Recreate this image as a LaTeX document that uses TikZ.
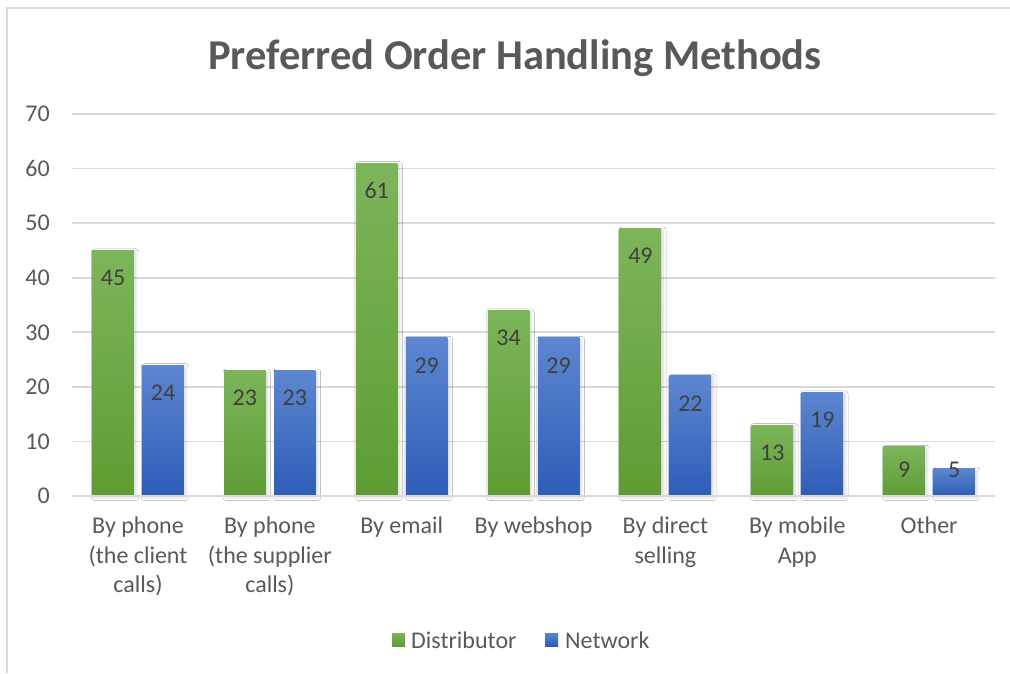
\documentclass[tikz,border=0pt]{standalone}
\usepackage{fontspec}
\setmainfont{Carlito}
\usetikzlibrary{shadows.blur}

\definecolor{txtgrey}{HTML}{595959}
\definecolor{lblgrey}{HTML}{404040}
\definecolor{gridgrey}{HTML}{D9D9D9}
\definecolor{greentop}{HTML}{7DB55A}
\definecolor{greenbot}{HTML}{5E9C33}
\definecolor{bluetop}{HTML}{5C86D0}
\definecolor{bluebot}{HTML}{2E5DB6}

\tikzset{
  gridline/.style={draw=gridgrey, line width=1.6pt},
  axislabel/.style={font=\fontsize{24}{28}\selectfont, text=txtgrey, anchor=east, inner sep=0pt},
  catlabel/.style={font=\fontsize{24}{29.5}\selectfont, text=txtgrey, align=center, anchor=north, inner sep=0pt},
  datalabel/.style={font=\fontsize{24}{28}\selectfont, text=lblgrey, inner sep=0pt},
  barshadow/.style={blur shadow={shadow xshift=2pt, shadow yshift=-1.5pt, shadow blur radius=3pt, shadow opacity=16}},
  greenbar/.style={barshadow, top color=greentop, bottom color=greenbot},
  bluebar/.style={barshadow, top color=bluetop, bottom color=bluebot},
}

\begin{document}
\begin{tikzpicture}[x=1pt, y=-1pt]
  \useasboundingbox (0,0) rectangle (1010,673);
  \fill[white] (0,0) rectangle (1010,673);

  % chart frame (top and left edges)
  \draw[draw=gridgrey, line width=2pt] (7,673) -- (7,8) -- (1010,8);

  % title
  \node[font=\bfseries\fontsize{42.5}{48}\selectfont, text=txtgrey] (title) at (515,58) {Preferred Order Handling Methods};

  % horizontal gridlines and value axis labels
  \foreach \v in {0,10,...,70} {
    \pgfmathsetmacro{\gy}{496 - \v*5.457}
    \draw[gridline] (72,\gy) -- (995,\gy);
    \node[axislabel] (ax\v) at (50,\gy) {\v};
  }

  % bars: index / distributor / network
  \foreach \i/\d/\n in {0/45/24, 1/23/23, 2/61/29, 3/34/29, 4/49/22, 5/13/19, 6/9/5} {
    \pgfmathsetmacro{\cx}{138 + \i*131.86}
    \pgfmathsetmacro{\hd}{\d*5.457}
    \pgfmathsetmacro{\hn}{\n*5.457}
    \pgfmathsetmacro{\td}{496 - \hd}
    \pgfmathsetmacro{\tn}{496 - \hn}
    \pgfmathsetmacro{\ld}{\td + min(27.5, \hd - 26)}
    \pgfmathsetmacro{\ln}{\tn + min(27.5, \hn - 26)}
    \shade[greenbar] (\cx-45.75,496) rectangle (\cx-4.25,\td);
    \shade[bluebar] (\cx+4.25,496) rectangle (\cx+45.75,\tn);
    \node[datalabel] (dl\i) at (\cx-25,\ld) {\d};
    \node[datalabel] (nl\i) at (\cx+25,\ln) {\n};
  }
  % baseline drawn over the bar feet
  \draw[gridline] (72,496) -- (995,496);

  % category labels
  \foreach \i/\t in {0/{By phone\\(the client\\calls)}, 1/{By phone\\(the supplier\\calls)}, 2/{By email}, 3/{By webshop}, 4/{By direct\\selling}, 5/{By mobile\\App}, 6/{Other}} {
    \pgfmathsetmacro{\cx}{138 + \i*131.86}
    \node[catlabel] (cat\i) at (\cx,517) {\t};
  }

  % legend
  \fill[top color=greentop, bottom color=greenbot] (392,633) rectangle (405,646);
  \node[datalabel, text=txtgrey, anchor=west] (legd) at (411,640) {Distributor};
  \fill[top color=bluetop, bottom color=bluebot] (545,633) rectangle (558,646);
  \node[datalabel, text=txtgrey, anchor=west] (legn) at (565,640) {Network};
\end{tikzpicture}
\end{document}
